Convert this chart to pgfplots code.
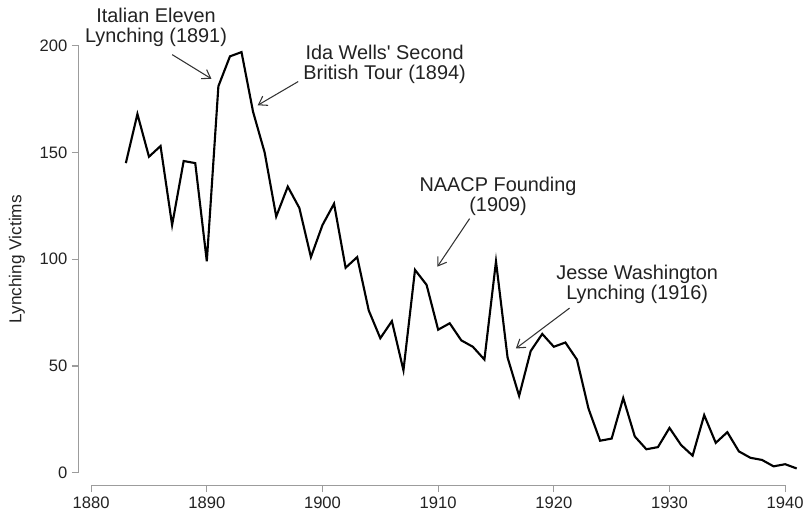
\documentclass[border=0pt]{standalone}
\usepackage{pgfplots}
\pgfplotsset{compat=1.18}
\usepackage{fontspec}
\setmainfont{Liberation Sans}
\usetikzlibrary{arrows.meta}
\definecolor{axisgray}{HTML}{9C9C9C}
\definecolor{txt}{HTML}{222222}
\definecolor{arr}{HTML}{333333}
\pgfplotstableread{
year victims
1883 145
1884 168
1885 148
1886 153
1887 116
1888 146
1889 145
1890 99
1891 181
1892 195
1893 197
1894 169
1895 150
1896 120
1897 134
1898 124
1899 101
1900 116
1901 126
1902 96
1903 101
1904 76
1905 63
1906 71
1907 48
1908 95
1909 88
1910 67
1911 70
1912 62
1913 59
1914 53
1915 99
1916 54
1917 36
1918 57
1919 65
1920 59
1921 61
1922 53
1923 30
1924 15
1925 16
1926 35
1927 17
1928 11
1929 12
1930 21
1931 13
1932 8
1933 27
1934 14
1935 19
1936 10
1937 7
1938 6
1939 3
1940 4
1941 2
}\lynch
\begin{document}
\begin{tikzpicture}
\begin{axis}[
  scale only axis,
  width=544.3pt, height=331.7pt,
  xmin=1878.94, xmax=1941.3,
  ymin=-5.86, ymax=200,
  axis lines=left,
  axis line style={draw=none},
  clip=false,
  xtick={1880,1890,1900,1910,1920,1930,1940},
  ytick={0,50,100,150,200},
  tick align=outside,
  major tick length=5.25pt,
  tick style={axisgray, line width=0.8pt},
  x tick label style={/pgf/number format/1000 sep={}, font=\fontsize{12.5}{14}\selectfont, text=txt},
  y tick label style={font=\fontsize{12.5}{14}\selectfont, text=txt},
  /pgf/number format/assume math mode=true,
  ylabel={Lynching Victims},
  ylabel style={at={(axis description cs:-0.0859,0.514)}, anchor=center, font=\fontsize{13}{15}\selectfont, text=txt},
  xlabel={},
]
\path (axis cs:1872.12,-22.0) rectangle (axis cs:1941.55,221.4);
\draw[axisgray, line width=0.8pt] (axis cs:1880,-5.86) -- (axis cs:1940,-5.86);
\draw[axisgray, line width=0.8pt] (axis cs:1878.94,0) -- (axis cs:1878.94,200);
\addplot[black, line width=1.6pt, mark=none, line join=miter] table[x=year, y=victims] {\lynch};
\begin{scope}[every node/.style={font=\fontsize{15}{15}\selectfont, text=txt, align=center}]
\node at (axis cs:1885.61,208.4) {Italian Eleven\\Lynching (1891)};
\node at (axis cs:1905.37,191.2) {Ida Wells\textquotesingle{} Second\\British Tour (1894)};
\node at (axis cs:1915.18,129.3) {NAACP Founding\\(1909)};
\node at (axis cs:1927.21,88.3) {Jesse Washington\\Lynching (1916)};
\end{scope}
\begin{scope}[arr, line width=0.8pt, -{Straight Barb[length=6pt,width=8pt]}]
\draw (axis cs:1887.01,195.8) -- (axis cs:1890.40,184.5);
\draw (axis cs:1897.90,183.2) -- (axis cs:1894.40,172.1);
\draw (axis cs:1912.72,119.0) -- (axis cs:1909.93,96.5);
\draw (axis cs:1921.36,77.1) -- (axis cs:1916.72,58.2);
\end{scope}
\end{axis}
\end{tikzpicture}
\end{document}
